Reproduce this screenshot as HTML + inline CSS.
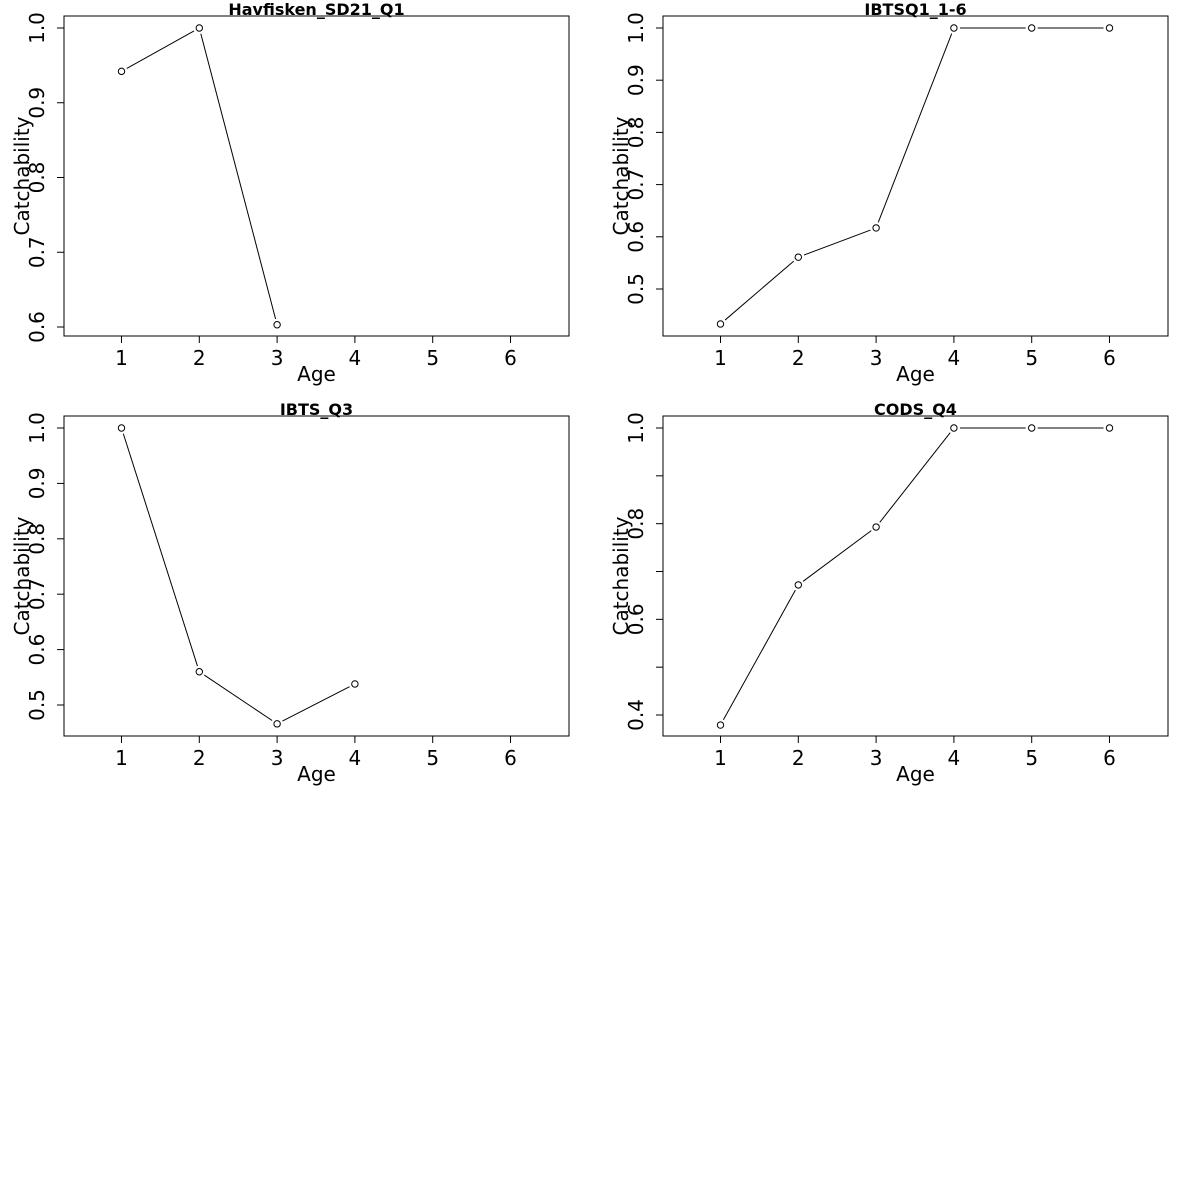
<!DOCTYPE html>
<html><head><meta charset="utf-8"><style>
html,body{margin:0;padding:0;background:#fff}
svg{display:block;font-family:"DejaVu Sans","Liberation Sans",sans-serif}
</style></head><body>
<svg id="c" width="1200" height="1200" viewBox="0 0 1200 1200"></svg>
<script>
const ages = [1,2,3,4,5,6];
const titles = ["Havfisken_SD21_Q1","IBTSQ1_1-6","IBTS_Q3","CODS_Q4"];
const valsHav = [0.942,1.0,0.603];
const valsQ1 = [0.433,0.561,0.617,1.0,1.0,1.0];
const valsQ3 = [1.0,0.56,0.466,0.538];
const valsQ4 = [0.379,0.672,0.793,1.0,1.0,1.0];
const ticksHav = [0.6,0.7,0.8,0.9,1.0];
const ticksQ1 = [0.5,0.6,0.7,0.8,0.9,1.0];
const ticksQ3 = [0.5,0.6,0.7,0.8,0.9,1.0];
const ticksQ4 = [0.4,0.5,0.6,0.7,0.8,0.9,1.0];
const labelsQ4 = ["0.4","","0.6","","0.8","","1.0"];

const panels = [
 {x0:64,y0:16,vals:valsHav,ticks:ticksHav,labels:ticksHav.map(v=>v.toFixed(1)),yRef:[0.6,327,1.0,28]},
 {x0:663,y0:16,vals:valsQ1,ticks:ticksQ1,labels:ticksQ1.map(v=>v.toFixed(1)),yRef:[0.5,289,1.0,28]},
 {x0:64,y0:416,vals:valsQ3,ticks:ticksQ3,labels:ticksQ3.map(v=>v.toFixed(1)),yRef:[0.5,705,1.0,428]},
 {x0:663,y0:416,vals:valsQ4,ticks:ticksQ4,labels:labelsQ4,yRef:[0.4,715,1.0,428]}
];
const NS="http://www.w3.org/2000/svg";
const svg=document.getElementById('c');
function el(tag,attrs,parent){const e=document.createElementNS(NS,tag);for(const k in attrs)e.setAttribute(k,attrs[k]);(parent||svg).appendChild(e);return e;}
panels.forEach((p,i)=>{
  const W=505,H=320;
  const g=el('g',{});
  
  
  const xs=a=>p.x0+57.5+(a-1)*77.8;
  const [v0,py0,v1,py1]=p.yRef;
  const ys=v=>py0+(v-v0)*(py1-py0)/(v1-v0);
  const box=el('rect',{x:p.x0,y:p.y0,width:W,height:H,fill:'none',stroke:'#000','stroke-width':1},g);
  
  
  const t=el('text',{x:p.x0+W/2,y:p.y0-1,'text-anchor':'middle','font-size':16,'font-weight':'bold'},g);
  t.textContent=titles[i];
  
  
  ages.forEach(a=>{
    const x=xs(a);
    el('line',{x1:x,x2:x,y1:p.y0+H,y2:p.y0+H+7,stroke:'#000'},g);
    const tl=el('text',{x:x,y:p.y0+H+29,'text-anchor':'middle','font-size':20},g);
    tl.textContent=a;
    
    
  });
  p.ticks.forEach((v,k)=>{
    const y=ys(v);
    el('line',{x1:p.x0,x2:p.x0-7,y1:y,y2:y,stroke:'#000'},g);
    if(p.labels[k]){
      const tl=el('text',{x:0,y:0,'text-anchor':'middle','font-size':20,transform:`translate(${p.x0-20},${y}) rotate(-90)`},g);
      tl.textContent=p.labels[k];
      
      
    }
  });
  const xl=el('text',{x:p.x0+W/2,y:p.y0+H+45,'text-anchor':'middle','font-size':20},g);
  xl.textContent='Age';
  
  
  const yl=el('text',{x:0,y:0,'text-anchor':'middle','font-size':20,transform:`translate(${p.x0-35},${p.y0+H/2}) rotate(-90)`},g);
  yl.textContent='Catchability';
  
  
  const pts=p.vals.map((v,k)=>[xs(ages[k]),ys(v)]);
  for(let k=0;k<pts.length-1;k++){
    const [x1,y1]=pts[k],[x2,y2]=pts[k+1];
    const dx=x2-x1,dy=y2-y1,L=Math.hypot(dx,dy),r=6;
    const seg=el('line',{x1:x1+dx/L*r,y1:y1+dy/L*r,x2:x2-dx/L*r,y2:y2-dy/L*r,stroke:'#000','stroke-width':1},g);
    
    
  }
  pts.forEach(([x,y])=>{
    const c=el('circle',{cx:x,cy:y,r:3.2,fill:'#fff',stroke:'#000','stroke-width':1},g);
    
    
  });
});
</script>
</body></html>
